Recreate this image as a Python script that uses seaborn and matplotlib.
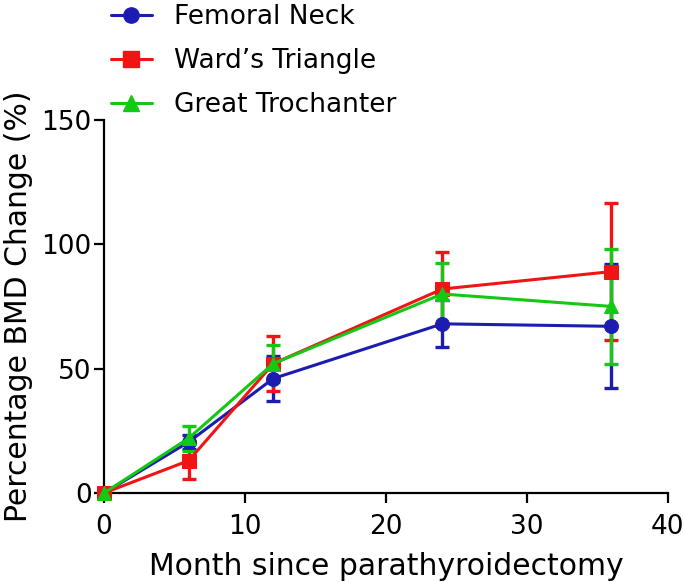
import matplotlib
matplotlib.use("Agg")
import matplotlib.pyplot as plt
import seaborn as sns
import pandas as pd
from matplotlib.lines import Line2D

months = [0, 6, 12, 24, 36]
series_names = ["Femoral Neck", "Ward\u2019s Triangle", "Great Trochanter"]
femoral_neck = [0, 20.5, 46, 68, 67]
femoral_neck_err = [0, 3, 9, 9.5, 25]
wards_triangle = [0, 13, 52, 82, 89]
wards_triangle_err = [0, 7.5, 11, 15, 27.5]
great_trochanter = [0, 22, 52, 80, 75]
great_trochanter_err = [0, 5, 7.5, 12.5, 23]

colors = ["#1c1cb0", "#f01414", "#14c814"]
markers = ["o", "s", "^"]

rows = []
for name, vals, errs in [(series_names[0], femoral_neck, femoral_neck_err),
                         (series_names[1], wards_triangle, wards_triangle_err),
                         (series_names[2], great_trochanter, great_trochanter_err)]:
    for m, v, e in zip(months, vals, errs):
        rows.append({"Month": m, "Value": v, "Err": e, "Site": name})
df = pd.DataFrame(rows)

sns.set_style("ticks")
plt.rcParams["font.family"] = ["DejaVu Sans"]
plt.rcParams["text.color"] = "black"
plt.rcParams["axes.labelcolor"] = "black"
plt.rcParams["xtick.color"] = "black"
plt.rcParams["ytick.color"] = "black"

fig = plt.figure(figsize=(6.85, 5.82), dpi=100)
ax = fig.add_axes([0.152, 0.153, 0.823, 0.641])

for name, c, mk in zip(series_names, colors, markers):
    sub = df[df["Site"] == name]
    ax.errorbar(sub["Month"], sub["Value"], yerr=sub["Err"], fmt="none",
                ecolor=c, elinewidth=2.4, capsize=5, capthick=2.4, clip_on=False, zorder=2)
    sns.lineplot(data=sub, x="Month", y="Value", ax=ax, color=c, marker=mk,
                 markersize=10, markeredgecolor=c, linewidth=2.2, clip_on=False,
                 legend=False, zorder=3)

ax.set_xlim(0, 40)
ax.set_ylim(0, 150)
ax.set_xticks([0, 10, 20, 30, 40])
ax.set_yticks([0, 50, 100, 150])
ax.set_xlabel("Month since parathyroidectomy", fontsize=21.5, labelpad=9)
ax.set_ylabel("Percentage BMD Change (%)", fontsize=21.5, labelpad=6)
ax.tick_params(axis="both", labelsize=19, width=1.6, length=7, color="black")
ax.tick_params(axis="x", pad=8)
ax.tick_params(axis="y", pad=2)
for s in ["left", "bottom"]:
    ax.spines[s].set_linewidth(1.6)
    ax.spines[s].set_color("black")
sns.despine(ax=ax)

handles = [Line2D([0], [0], color=c, marker=mk, markersize=11, linewidth=2.2)
           for c, mk in zip(colors, markers)]
fig.legend(handles, series_names, loc="upper left", bbox_to_anchor=(0.162, 0.993),
           frameon=False, fontsize=19, handlelength=1.55, labelspacing=0.68,
           handletextpad=0.85, borderpad=0, borderaxespad=0)

fig.savefig("out.png", dpi=100)
